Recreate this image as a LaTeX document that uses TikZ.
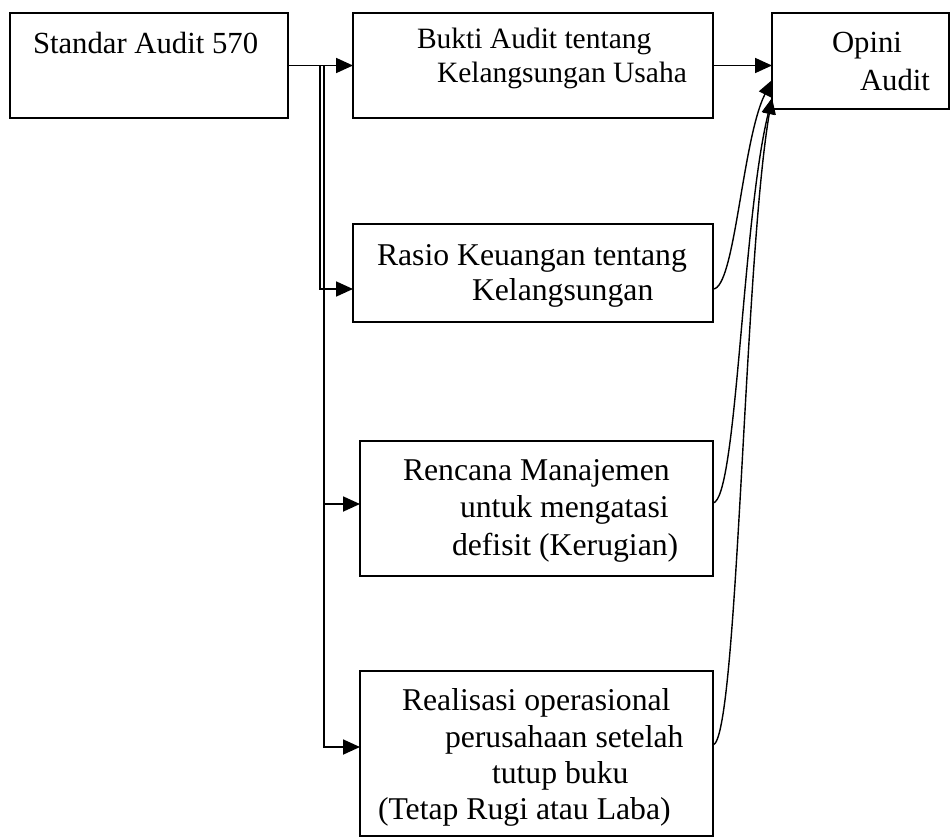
\documentclass[tikz,border=0pt]{standalone}
\usepackage{fontspec}
\setmainfont{Liberation Serif}
\usetikzlibrary{arrows.meta}
\begin{document}
\begin{tikzpicture}[x=1pt,y=-1pt,
  box/.style={draw, line width=1.8pt, inner sep=0pt, outer sep=0pt},
  txt/.style={anchor=base west, inner sep=0pt, outer sep=0pt, font=\fontsize{31.7}{36}\selectfont},
  txtb/.style={txt, font=\fontsize{30.7}{36}\selectfont},
  txts/.style={txt, font=\fontsize{29.5}{34}\selectfont},
  arr/.style={line width=1.8pt, -{Triangle[length=17pt,width=15pt]}},
  crv/.style={line width=1.4pt, -{Triangle[length=16pt,width=13pt]}}]
\useasboundingbox (0,0) rectangle (950,838);
% boxes
\node[box, minimum width=278pt, minimum height=105pt] (std) at (149,65.5) {};
\node[box, minimum width=360pt, minimum height=105pt] (buk) at (533,65.5) {};
\node[box, minimum width=177pt, minimum height=96pt] (opi) at (860.5,61) {};
\node[box, minimum width=360pt, minimum height=98pt] (ras) at (533,273) {};
\node[box, minimum width=353pt, minimum height=135pt] (ren) at (536.5,508.5) {};
\node[box, minimum width=353pt, minimum height=165pt] (rea) at (536.5,753.5) {};
% texts
\node[txtb] (t1) at (33,53) {Standar Audit 570};
\node[txts] (t2a) at (417,48) {Bukti Audit tentang};
\node[txts] (t2b) at (437,82) {Kelangsungan Usaha};
\node[txtb] (t3a) at (832,52) {Opini};
\node[txtb] (t3b) at (860,90) {Audit};
\node[txt] (t4a) at (377,265) {Rasio Keuangan tentang};
\node[txt] (t4b) at (472,300) {Kelangsungan};
\node[txt] (t5a) at (403,480) {Rencana Manajemen};
\node[txt] (t5b) at (460,517) {untuk mengatasi};
\node[txt] (t5c) at (452,555) {defisit (Kerugian)};
\node[txt] (t6a) at (402,710) {Realisasi operasional};
\node[txt] (t6b) at (445,747) {perusahaan setelah};
\node[txt] (t6c) at (492,783) {tutup buku};
\node[txt] (t6d) at (378,819) {(Tetap Rugi atau Laba)};
% connectors from Standar
\coordinate (jn) at ([xshift=36pt]std.east);
\coordinate (rasin) at ([yshift=-16pt]ras.west);
\coordinate (renin) at ([yshift=4.5pt]ren.west);
\coordinate (reain) at ([yshift=6.5pt]rea.west);
\draw[arr] (std.east) -- (buk.west);
\draw[arr] (std.east) -- ++(32,0) |- (rasin);
\draw[arr] (jn) |- (reain);
\draw[arr] (jn |- renin) -- (renin);
\draw[arr] (buk.east) -- (buk.east -| opi.west);
% curves into Opini
\coordinate (oin1) at ([yshift=-19pt]opi.west);
\coordinate (oin2) at ([yshift=-37pt]opi.west);
\draw[crv] ([yshift=-16pt]ras.east) .. controls (735,289) and (742,140) .. (oin1);
\draw[crv] ([yshift=5.5pt]ren.east) .. controls (737,500) and (742,220) .. (oin2);
\draw[crv] ([yshift=8.5pt]rea.east) .. controls (738,740) and (744,260) .. (oin2);
\end{tikzpicture}
\end{document}
